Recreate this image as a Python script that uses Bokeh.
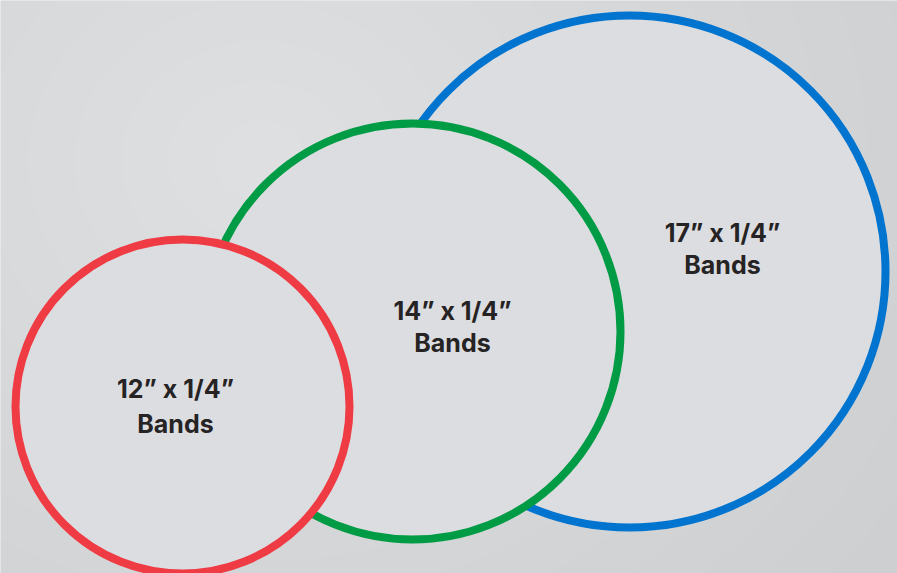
import numpy as np
from bokeh.plotting import figure
from bokeh.models import Range1d, ColumnDataSource
from bokeh.core.properties import value
from bokeh.embed import file_html
from bokeh.resources import INLINE

# Data: band sizes and their circles (reference pixel coordinates)
labels = ["17\u201d x 1/4\u201d", "14\u201d x 1/4\u201d", "12\u201d x 1/4\u201d"]
sublabels = ["Bands", "Bands", "Bands"]
center_x = [629, 412, 182]
center_y = [271, 331, 406]
radius = [256, 208, 167]
colors = ["#0074cf", "#009b45", "#ef3b44"]
label_x = [722, 452, 175]
label_y1 = [232, 310, 388]
label_y2 = [264, 342, 423]

W, H = 897, 573
p = figure(width=W, height=H, output_backend="svg", toolbar_location=None,
           x_range=Range1d(0, W), y_range=Range1d(H, 0), min_border=0)
p.axis.visible = False
p.grid.visible = False
p.outline_line_color = None
p.background_fill_color = "#d8d9dc"

# background gradient
yy, xx = np.mgrid[0:H, 0:W]
d = np.sqrt(((xx - 260) / 700.0) ** 2 + ((yy - 160) / 600.0) ** 2)
v = np.clip(223 - 15 * d, 200, 224)
img = np.zeros((H, W), dtype=np.uint32)
view = img.view(dtype=np.uint8).reshape((H, W, 4))
view[:, :, 0] = v.astype(np.uint8)
view[:, :, 1] = (v + 1).astype(np.uint8)
view[:, :, 2] = (v + 3).astype(np.uint8)
view[:, :, 3] = 255
p.image_rgba(image=[img], x=0, y=0, dw=W, dh=H)

src = ColumnDataSource(dict(x=center_x, y=center_y, r=radius, c=colors,
                            lx=label_x, ly1=label_y1, ly2=label_y2,
                            t1=labels, t2=sublabels))
p.circle(x="x", y="y", radius="r", source=src, fill_color="#dcdde0",
         line_color="c", line_width=8)

for col_y, col_t in (("ly1", "t1"), ("ly2", "t2")):
    p.text(x="lx", y=col_y, text=col_t, source=src, text_align="center",
           text_baseline="middle", text_font=value("Inter"),
           text_font_style="bold", text_font_size="25px", text_color="#262324")

open("out.html", "w").write(file_html(p, INLINE))
